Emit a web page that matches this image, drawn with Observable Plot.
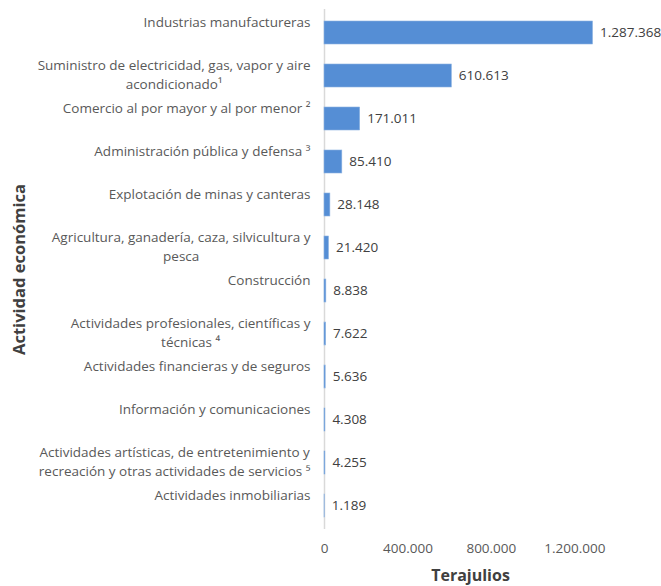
<!DOCTYPE html>
<html>
<head>
<meta charset="utf-8">
<script src="https://cdn.jsdelivr.net/npm/d3@7"></script>
<script src="https://cdn.jsdelivr.net/npm/@observablehq/plot@0.6"></script>
<style>
  html, body { margin: 0; padding: 0; background: #fff; }
</style>
</head>
<body>
<div id="chart"></div>
<script>
const categories = [
  "Industrias manufactureras",
  "Suministro de electricidad, gas, vapor y aire\nacondicionado¹",
  "Comercio al por mayor y al por menor ²",
  "Administración pública y defensa ³",
  "Explotación de minas y canteras",
  "Agricultura, ganadería, caza, silvicultura y\npesca",
  "Construcción",
  "Actividades profesionales, científicas y\ntécnicas ⁴",
  "Actividades financieras y de seguros",
  "Información y comunicaciones",
  "Actividades artísticas, de entretenimiento y\nrecreación y otras actividades de servicios ⁵",
  "Actividades inmobiliarias"
];
const values = [1287368, 610613, 171011, 85410, 28148, 21420, 8838, 7622, 5636, 4308, 4255, 1189];
const xTicks = [0, 400000, 800000, 1200000];
const xTitle = "Terajulios";
const yTitle = "Actividad económica";

const data = categories.map((c, i) => ({category: c, value: values[i]}));
const fmt = d3.formatLocale({decimal: ",", thousands: ".", grouping: [3], currency: ["", ""]}).format(",d");
const fontFamily = "'Open Sans', 'Noto Sans', sans-serif";
const labelSize = 13.5;

// measure label widths so multi-line labels are centred within a right-aligned block
const ctx = document.createElement("canvas").getContext("2d");
ctx.font = `${labelSize}px ${fontFamily}`;
const blockWidth = c => d3.max(c.split("\n"), l => ctx.measureText(l).width);

const labelMarks = data.map(d =>
  Plot.text([d], {
    x: 0, y: "category", text: "category",
    textAnchor: "middle", lineAnchor: "top",
    dx: -14 - blockWidth(d.category) / 2, dy: -20,
    lineHeight: 1.42, fill: "#595959", fontSize: labelSize
  })
);

const chart = Plot.plot({
  width: 661,
  height: 586,
  marginLeft: 324,
  marginRight: 45,
  marginTop: 9,
  marginBottom: 57,
  style: {fontFamily, fontSize: "13px", color: "#595959", background: "#fff"},
  x: {domain: [0, 1400000], ticks: xTicks, tickFormat: fmt},
  y: {domain: categories, paddingInner: 0.47, paddingOuter: 0.235, axis: null},
  marks: [
    Plot.ruleX([0], {stroke: "#d9d9d9", strokeWidth: 1.5}),
    Plot.barX(data, {x: "value", y: "category", fill: "#558ed5", stroke: "#8db3e2", strokeWidth: 0.6}),
    Plot.text(data, {x: "value", y: "category", text: d => fmt(d.value), textAnchor: "start", dx: 7, fill: "#404040", fontSize: labelSize}),
    ...labelMarks,
    Plot.axisX({ticks: xTicks, tickFormat: fmt, tickSize: 0, tickPadding: 14, fill: "#595959", fontSize: labelSize, label: null}),
    Plot.text([xTitle], {frameAnchor: "bottom", textAnchor: "middle", lineAnchor: "middle", dy: 46, fontWeight: "bold", fontSize: 16, fill: "#404040"}),
    Plot.text([yTitle], {frameAnchor: "left", textAnchor: "middle", lineAnchor: "middle", dx: -305, rotate: -90, fontWeight: "bold", fontSize: 16.5, fill: "#404040"})
  ]
});
document.getElementById("chart").appendChild(chart);
</script>
</body>
</html>
